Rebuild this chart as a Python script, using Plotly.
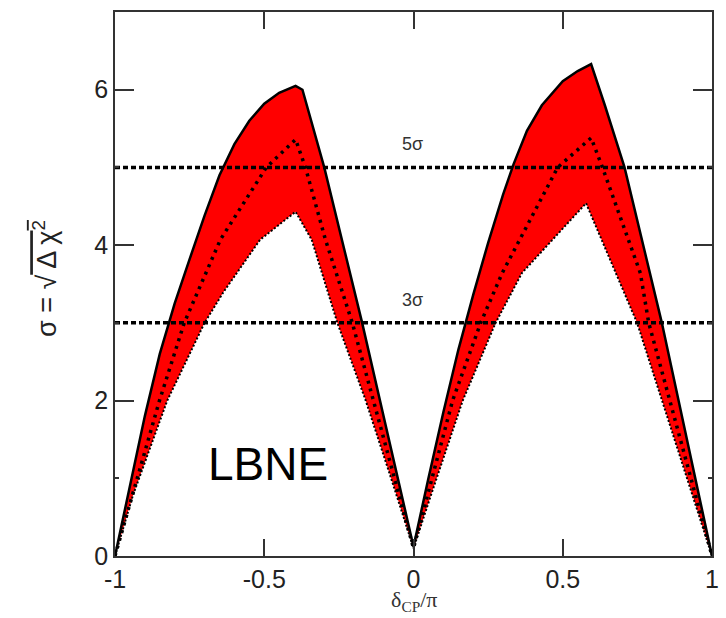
import plotly.graph_objects as go

# ---- data (x = delta_CP / pi, y = sigma) ----
upper_x = [-1.0, -0.95, -0.9, -0.85, -0.8, -0.75, -0.7, -0.65, -0.6, -0.55, -0.5, -0.45,
           -0.395, -0.372, -0.299, -0.172, 0.0,
           0.05, 0.1, 0.15, 0.175, 0.2, 0.25, 0.3, 0.335, 0.38, 0.43, 0.5, 0.55,
           0.595, 0.641, 0.707, 0.832, 1.0]
upper_y = [0.0, 0.9, 1.8, 2.6, 3.25, 3.82, 4.38, 4.9, 5.3, 5.6, 5.82, 5.96,
           6.05, 6.0, 5.0, 3.0, 0.12,
           1.0, 1.85, 2.65, 3.01, 3.36, 4.03, 4.65, 5.04, 5.47, 5.8, 6.11, 6.24,
           6.33, 5.8, 5.0, 3.0, 0.0]

lower_x = [-1.0, -0.94, -0.825, -0.7, -0.636, -0.514, -0.395,
           -0.341, -0.255, -0.16, -0.075, 0.0,
           0.06, 0.165, 0.275, 0.363, 0.578,
           0.749, 1.0]
lower_y = [0.0, 0.78, 2.0, 3.0, 3.4, 4.07, 4.43,
           4.07, 3.0, 2.0, 1.0, 0.1,
           0.8, 2.0, 3.0, 3.64, 4.54,
           3.0, 0.0]

mid_x = [-1.0, -0.851, -0.768, -0.647, -0.493, -0.395, -0.362, -0.295, -0.205, 0.0,
         0.131, 0.225, 0.297, 0.483, 0.595, 0.633, 0.76, 0.788, 1.0]
mid_y = [0.0, 2.0, 3.0, 4.07, 5.0, 5.36, 5.0, 4.07, 3.0, 0.1,
         2.0, 3.0, 3.64, 5.0, 5.38, 5.0, 3.64, 3.0, 0.0]

sigma_levels = [3, 5]
sigma_labels = ["3σ", "5σ"]
x_ticks = [-1, -0.5, 0, 0.5, 1]
x_ticklabels = ["-1", "-0.5", "0", "0.5", "1"]
y_ticks = [0, 2, 4, 6]

fig = go.Figure()

# red band
fig.add_trace(go.Scatter(
    x=upper_x + lower_x[::-1], y=upper_y + lower_y[::-1],
    fill="toself", fillcolor="#ff0000", mode="none", hoverinfo="skip", showlegend=False))

# lower edge (dotted)
fig.add_trace(go.Scatter(x=lower_x, y=lower_y, mode="lines",
                         line=dict(color="black", width=2, dash="2px,2px"), showlegend=False))
# central (dotted)
fig.add_trace(go.Scatter(x=mid_x, y=mid_y, mode="lines",
                         line=dict(color="black", width=3.5, dash="3px,5px"), showlegend=False))
# upper edge (solid)
fig.add_trace(go.Scatter(x=upper_x, y=upper_y, mode="lines",
                         line=dict(color="black", width=2.5), showlegend=False))

# sigma lines
for lev, lab in zip(sigma_levels, sigma_labels):
    fig.add_trace(go.Scatter(x=[-1, 1], y=[lev, lev], mode="lines",
                             line=dict(color="black", width=3.5, dash="5px,3px"), showlegend=False))
    fig.add_annotation(x=-0.005, y=lev + 0.3, text=lab, showarrow=False,
                       font=dict(family="Liberation Sans", size=18, color="#333333"))

fig.add_annotation(x=-0.487, y=1.18, text="LBNE", showarrow=False,
                   font=dict(family="Liberation Sans", size=46, color="black"))

# axis titles
fig.add_annotation(xref="paper", yref="paper", x=0.5, y=-0.054, yanchor="top",
                   text="δ<sub>CP</sub>/π", showarrow=False,
                   font=dict(family="Liberation Serif", size=22, color="#333333"))
fig.add_annotation(xref="paper", yref="paper", x=-0.15, y=0.51, textangle=-90,
                   text="σ = √<span style='text-decoration:overline'> Δ χ<sup>2</sup></span>",
                   showarrow=False,
                   font=dict(family="Liberation Sans", size=27, color="#222222"))

fig.update_xaxes(range=[-1, 1], tickvals=x_ticks, ticktext=x_ticklabels,
                 ticks="inside", ticklen=17, tickwidth=1.5, tickcolor="#333333",
                 showline=True, linecolor="#333333", linewidth=1.5, mirror="ticks",
                 showgrid=False, zeroline=False,
                 tickfont=dict(family="Liberation Sans", size=25, color="#222222"))
fig.update_yaxes(range=[0, 7], tickvals=y_ticks,
                 ticks="inside", ticklen=19, tickwidth=1.5, tickcolor="#333333",
                 minor=dict(tickvals=[1, 3, 5], ticks="inside", ticklen=4, tickcolor="#333333"),
                 showline=True, linecolor="#333333", linewidth=1.5, mirror="ticks",
                 showgrid=False, zeroline=False,
                 tickfont=dict(family="Liberation Sans", size=25, color="#222222"))

fig.update_layout(width=726, height=618, margin=dict(l=115, r=7, t=12, b=62),
                  plot_bgcolor="white", paper_bgcolor="white")

fig.write_html("out.html")
